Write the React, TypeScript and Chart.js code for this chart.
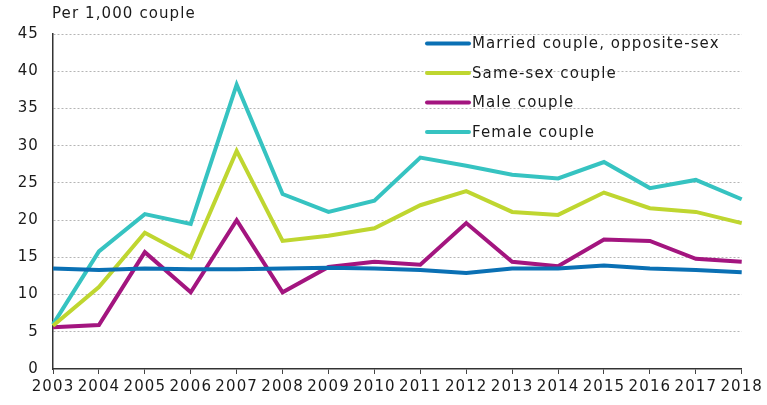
import React, { useEffect, useRef } from "react";
import { Chart, registerables } from "chart.js";

Chart.register(...registerables);

const years = ["2003","2004","2005","2006","2007","2008","2009","2010","2011","2012","2013","2014","2015","2016","2017","2018"];
const married = [13.5, 13.3, 13.5, 13.4, 13.4, 13.5, 13.6, 13.5, 13.3, 12.9, 13.5, 13.5, 13.9, 13.5, 13.3, 13.0];
const sameSex = [5.8, 11.0, 18.3, 15.0, 29.3, 17.2, 17.9, 18.9, 22.0, 23.9, 21.1, 20.7, 23.7, 21.6, 21.1, 19.6];
const male = [5.6, 5.9, 15.7, 10.3, 20.0, 10.3, 13.7, 14.4, 14.0, 19.6, 14.4, 13.8, 17.4, 17.2, 14.8, 14.4];
const female = [6.0, 15.8, 20.8, 19.5, 38.2, 23.5, 21.1, 22.6, 28.4, 27.3, 26.1, 25.6, 27.8, 24.3, 25.4, 22.8];
const seriesNames = ["Married couple, opposite-sex", "Same-sex couple", "Male couple", "Female couple"];
const seriesColors = ["#0a70b4", "#bfd630", "#a3157f", "#36c3c1"];
const yTitle = "Per 1,000 couple";

const FONT = "'DejaVu Sans', sans-serif";
const SPACING = "1.1px";
const TEXT = "#1a1a1a";

const spacingPlugin = {
  id: "spacing",
  beforeUpdate(chart: any) { chart.ctx.letterSpacing = SPACING; },
  beforeLayout(chart: any) { chart.ctx.letterSpacing = SPACING; },
  beforeDraw(chart: any) { chart.ctx.letterSpacing = SPACING; },
};

const overlayPlugin = {
  id: "overlay",
  afterDraw(chart: any) {
    const ctx = chart.ctx;
    const area = chart.chartArea;
    ctx.save();
    ctx.letterSpacing = SPACING;
    ctx.font = `15px ${FONT}`;
    ctx.fillStyle = TEXT;
    ctx.textAlign = "left";
    ctx.textBaseline = "alphabetic";
    ctx.fillText(yTitle, area.left - 1, 18);
    const x0 = area.left + 372;
    const rowY = [43.5, 73, 102.5, 132];
    chart.data.datasets.forEach((ds: any, i: number) => {
      const y = rowY[i];
      ctx.strokeStyle = ds.borderColor;
      ctx.lineWidth = 4;
      ctx.lineCap = "round";
      ctx.beginPath();
      ctx.moveTo(x0 + 2, y);
      ctx.lineTo(x0 + 44, y);
      ctx.stroke();
      ctx.fillStyle = TEXT;
      ctx.textBaseline = "middle";
      ctx.fillText(ds.label, x0 + 47, y + 1);
    });
    ctx.restore();
  },
};

export default function App() {
  const ref = useRef<HTMLCanvasElement>(null);
  useEffect(() => {
    document.body.style.margin = "0";
    const values = [married, sameSex, male, female];
    const chart = new Chart(ref.current!, {
      type: "line",
      data: {
        labels: years,
        datasets: values.map((v, i) => ({
          label: seriesNames[i],
          data: v,
          borderColor: seriesColors[i],
          backgroundColor: seriesColors[i],
          borderWidth: 4,
          pointRadius: 0,
          tension: 0,
          fill: false,
          borderJoinStyle: "miter" as const,
        })),
      },
      options: {
        animation: false,
        responsive: false,
        maintainAspectRatio: false,
        layout: { padding: { top: 34, right: 24, left: 0, bottom: 0 } },
        plugins: {
          legend: { display: false },
          title: { display: false },
          tooltip: { enabled: false },
        },
        scales: {
          x: {
            type: "category",
            offset: false,
            afterFit(scale: any) { scale.height = 36; },
            grid: {
              drawOnChartArea: false,
              drawTicks: true,
              tickLength: 5,
              color: "#444",
              lineWidth: 1,
            },
            border: { display: true, color: "#333", width: 1.5 },
            ticks: {
              autoSkip: false,
              maxRotation: 0,
              minRotation: 0,
              padding: 4,
              color: TEXT,
              font: { family: FONT, size: 15 },
            },
          },
          y: {
            min: 0,
            max: 45,
            afterFit(scale: any) { scale.width = 53; },
            grid: {
              drawTicks: false,
              color: (c: any) => (c.tick && c.tick.value === 0 ? "rgba(0,0,0,0)" : "#b5b5b5"),
              lineWidth: 1,
            },
            border: { display: true, color: "#333", width: 1.5, dash: [2, 2] },
            ticks: {
              stepSize: 5,
              padding: 14,
              color: TEXT,
              font: { family: FONT, size: 15 },
            },
          },
        },
      },
      plugins: [spacingPlugin, overlayPlugin],
    });
    return () => chart.destroy();
  }, []);
  return (
    <div style={{ width: 767, height: 405 }}>
      <canvas ref={ref} width={767} height={405} style={{ width: 767, height: 405 }} />
    </div>
  );
}
